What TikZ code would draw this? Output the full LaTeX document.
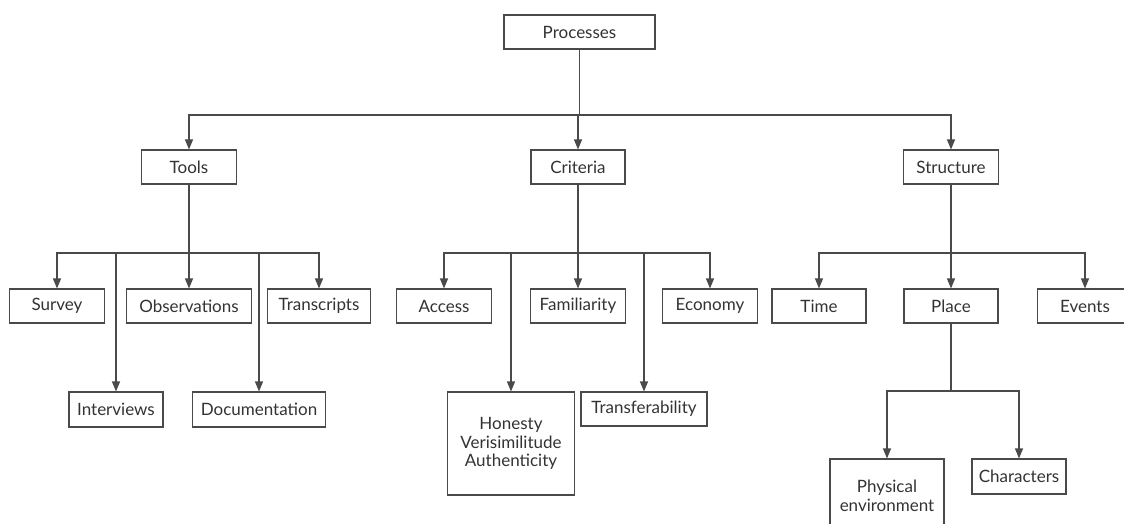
\documentclass[tikz,border=0pt]{standalone}
\usepackage{fontspec}
\setmainfont{Lato}
\usetikzlibrary{arrows.meta}
\definecolor{ink}{HTML}{333333}
\definecolor{edge}{HTML}{4A4A4A}
\tikzset{
  bx/.style={draw=edge, line width=1.1pt, rectangle, inner sep=0pt, align=center,
    text=ink, font=\fontsize{17}{18.5}\selectfont},
  ln/.style={draw=edge, line width=1.1pt},
  arr/.style={ln, -{Triangle[length=10pt,width=8pt]}}
}
\begin{document}
\begin{tikzpicture}[x=1pt,y=-1pt]
\clip (0,0) rectangle (1124,524);
\fill[white] (0,0) rectangle (1124,524);
% level 0
\node[bx, minimum width=151, minimum height=34] (proc) at (579.5,32) {Processes};
% level 1
\node[bx, minimum width=95, minimum height=34] (tools) at (189,167) {Tools};
\node[bx, minimum width=94, minimum height=34] (crit) at (578,167) {Criteria};
\node[bx, minimum width=95, minimum height=34] (struc) at (951,167) {Structure};
% tools children
\node[bx, minimum width=95, minimum height=34] (survey) at (57,306) {Survey};
\node[bx, minimum width=125, minimum height=34] (obs) at (189,306) {Observations};
\node[bx, minimum width=103, minimum height=34] (trans) at (319,306) {Transcripts};
\node[bx, minimum width=94, minimum height=35] (inter) at (116,409.5) {Interviews};
\node[bx, minimum width=133, minimum height=35] (doc) at (259,409.5) {Documentation};
% criteria children
\node[bx, minimum width=95, minimum height=34] (access) at (444,306) {Access};
\node[bx, minimum width=95, minimum height=34] (fam) at (578,306) {Familiarity};
\node[bx, minimum width=95, minimum height=34] (econ) at (710,306) {Economy};
\node[bx, minimum width=127, minimum height=103] (hon) at (511,443.5) {Honesty\\Verisimilitude\\Authenticity};
\node[bx, minimum width=126, minimum height=34] (transf) at (644,409) {Transferability};
% structure children
\node[bx, minimum width=94, minimum height=34] (time) at (819,306) {Time};
\node[bx, minimum width=94, minimum height=34] (place) at (951,306) {Place};
\node[bx, minimum width=95, minimum height=34] (events) at (1085,306) {Events};
\node[bx, minimum width=114, minimum height=74] (phys) at (887,496) {Physical\\environment};
\node[bx, minimum width=94, minimum height=35] (chars) at (1019,476.5) {Characters};
% junctions
\coordinate (j0) at (579.5,115);
\coordinate (j1) at (189,253);
\coordinate (j2) at (578,253);
\coordinate (j3) at (951,253);
\coordinate (j4) at (951,391);
% connectors
\draw[ln] (proc.south) -- (j0);
\draw[arr] (j0) -| (tools.north);
\draw[arr] (j0) -| (crit.north);
\draw[arr] (j0) -| (struc.north);
\draw[ln] (tools.south) -- (j1);
\draw[arr] (j1) -| (survey.north);
\draw[arr] (j1) -- (obs.north);
\draw[arr] (j1) -| (trans.north);
\draw[arr] (j1) -| (inter.north);
\draw[arr] (j1) -| (doc.north);
\draw[ln] (crit.south) -- (j2);
\draw[arr] (j2) -| (access.north);
\draw[arr] (j2) -- (fam.north);
\draw[arr] (j2) -| (econ.north);
\draw[arr] (j2) -| (hon.north);
\draw[arr] (j2) -| (transf.north);
\draw[ln] (struc.south) -- (j3);
\draw[arr] (j3) -| (time.north);
\draw[arr] (j3) -- (place.north);
\draw[arr] (j3) -| (events.north);
\draw[ln] (place.south) -- (j4);
\draw[arr] (j4) -| (phys.north);
\draw[arr] (j4) -| (chars.north);
\end{tikzpicture}
\end{document}
